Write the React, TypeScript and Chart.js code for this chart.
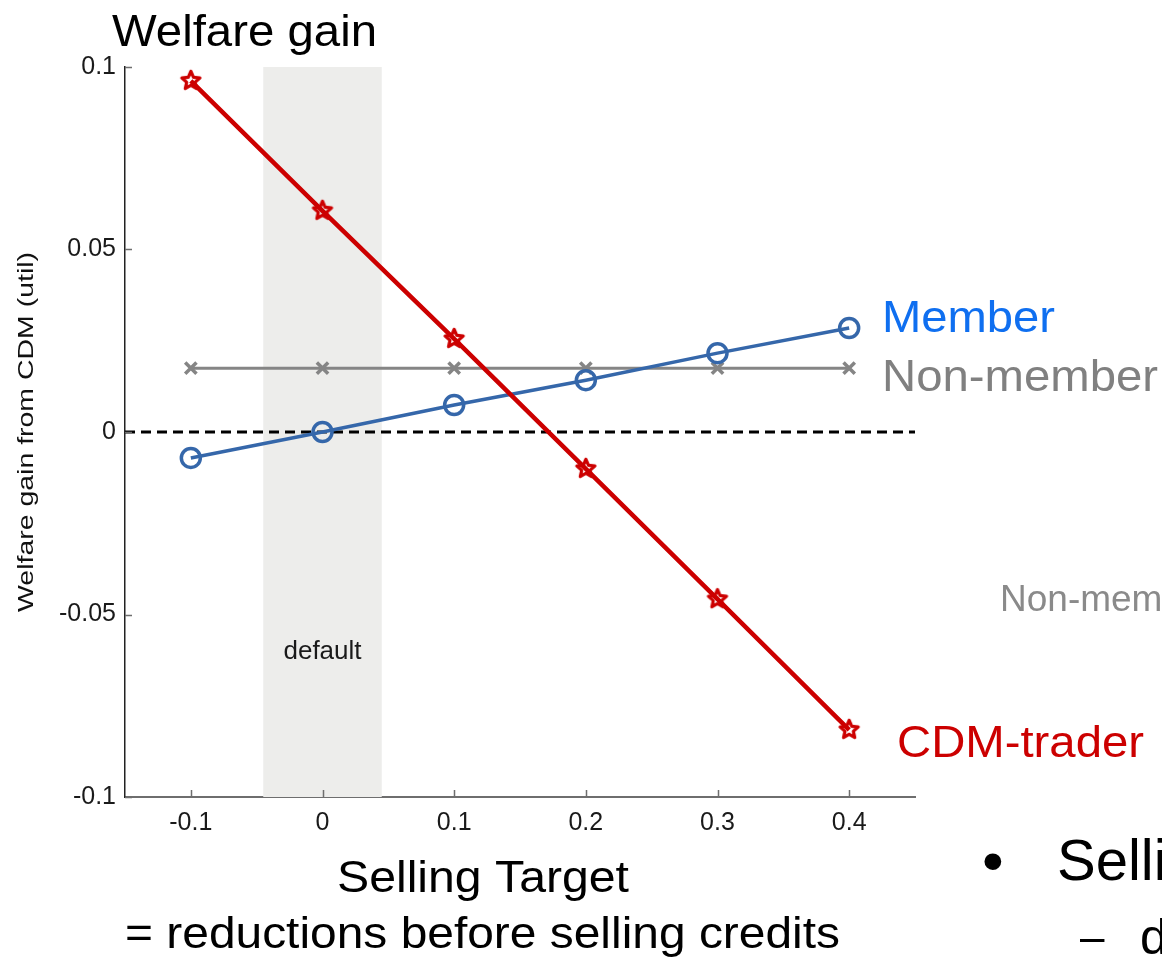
import React, { useEffect, useRef } from "react";
import { Chart, registerables } from "chart.js";

Chart.register(...registerables);

const sellingTargets = [-0.1, 0, 0.1, 0.2, 0.3, 0.4];
const cdmTrader = [0.0962, 0.0606, 0.0255, -0.0101, -0.0458, -0.0816];
const member = [-0.0071, 0, 0.0074, 0.0142, 0.0216, 0.0285];
const nonMember = [0.0175, 0.0175, 0.0175, 0.0175, 0.0175, 0.0175];
const xTickValues = [-0.1, 0, 0.1, 0.2, 0.3, 0.4];
const yTickValues = [-0.1, -0.05, 0, 0.05, 0.1];
const defaultBand = [-0.045, 0.045];

const FONT = "'Liberation Sans', Arial, Helvetica, sans-serif";

function makeStar(color: string) {
  const c = document.createElement("canvas");
  c.width = 26;
  c.height = 26;
  const ctx = c.getContext("2d")!;
  ctx.strokeStyle = color;
  ctx.lineWidth = 3.2;
  ctx.lineJoin = "round";
  ctx.beginPath();
  const R = 9.5, r = 4.4;
  for (let i = 0; i < 10; i++) {
    const rad = i % 2 === 0 ? R : r;
    const a = -Math.PI / 2 + (i * Math.PI) / 5;
    const x = 13 + rad * Math.cos(a);
    const y = 13 + rad * Math.sin(a);
    if (i === 0) ctx.moveTo(x, y);
    else ctx.lineTo(x, y);
  }
  ctx.closePath();
  ctx.stroke();
  return c;
}

function txt(
  ctx: CanvasRenderingContext2D,
  s: string,
  x: number,
  y: number,
  size: number,
  color: string,
  width?: number
) {
  ctx.save();
  ctx.font = `${size}px ${FONT}`;
  ctx.fillStyle = color;
  ctx.textAlign = "left";
  ctx.textBaseline = "alphabetic";
  ctx.translate(x, y);
  if (width) {
    const w = ctx.measureText(s).width;
    ctx.scale(width / w, 1);
  }
  ctx.fillText(s, 0, 0);
  ctx.restore();
}

const fmt = (v: number) => String(Math.round(v * 1000) / 1000);

export default function App() {
  const ref = useRef<HTMLCanvasElement>(null);

  useEffect(() => {
    if (!ref.current) return;
    const star = makeStar("#cc0000");

    const decor = {
      id: "decor",
      beforeDatasetsDraw(chart: any) {
        const { ctx, chartArea, scales } = chart;
        const xs = scales.x, ys = scales.y;
        ctx.save();
        const x0 = xs.getPixelForValue(defaultBand[0]);
        const x1 = xs.getPixelForValue(defaultBand[1]);
        ctx.fillStyle = "#ededeb";
        ctx.fillRect(x0, chartArea.top, x1 - x0, chartArea.bottom - chartArea.top);
        ctx.font = `26px ${FONT}`;
        ctx.fillStyle = "#1a1a1a";
        ctx.textAlign = "center";
        ctx.textBaseline = "middle";
        ctx.fillText("default", (x0 + x1) / 2, ys.getPixelForValue(-0.0602));
        const y0 = ys.getPixelForValue(0);
        ctx.strokeStyle = "#000";
        ctx.lineWidth = 3;
        ctx.setLineDash([10, 6]);
        ctx.beginPath();
        ctx.moveTo(chartArea.left, y0);
        ctx.lineTo(chartArea.right, y0);
        ctx.stroke();
        ctx.restore();
      },
      afterDraw(chart: any) {
        const { ctx, chartArea, scales } = chart;
        const xs = scales.x, ys = scales.y;
        ctx.save();
        ctx.strokeStyle = "#6e6e6e";
        ctx.lineWidth = 1.5;
        ctx.beginPath();
        for (const v of xTickValues) {
          const px = Math.round(xs.getPixelForValue(v)) + 0.5;
          ctx.moveTo(px, chartArea.bottom);
          ctx.lineTo(px, chartArea.bottom - 7);
        }
        for (const v of yTickValues) {
          const py = Math.round(ys.getPixelForValue(v)) + 0.5;
          ctx.moveTo(chartArea.left, py);
          ctx.lineTo(chartArea.left + 7, py);
        }
        ctx.stroke();
        ctx.restore();

        ctx.save();
        ctx.translate(27, (chartArea.top + chartArea.bottom) / 2);
        ctx.rotate(-Math.PI / 2);
        ctx.font = `22px ${FONT}`;
        const t = "Welfare gain from CDM (util)";
        const w = ctx.measureText(t).width;
        ctx.scale(360 / w, 1);
        ctx.fillStyle = "#111";
        ctx.textAlign = "center";
        ctx.textBaseline = "middle";
        ctx.fillText(t, 0, 0);
        ctx.restore();

        txt(ctx, "Welfare gain", 112, 46, 44, "#000", 265);
        txt(ctx, "Member", 882, 332, 44, "#0f6ff0", 173);
        txt(ctx, "Non-member", 882, 391, 44, "#808080", 276);
        txt(ctx, "CDM-trader", 897, 757, 44, "#cc0000", 247);
        txt(ctx, "Selling Target", 337, 892, 44, "#000", 292);
        txt(ctx, "= reductions before selling credits", 125, 948, 44, "#000", 715);
        txt(ctx, "Non-member", 1000, 611, 37, "#8a8a8a");
        txt(ctx, "•", 982, 882, 62, "#000");
        txt(ctx, "Selling", 1057, 880, 58, "#000");
        txt(ctx, "–", 1080, 952, 44, "#000");
        txt(ctx, "d", 1140, 954, 50, "#000");
      },
    };

    const chart = new Chart(ref.current, {
      type: "line",
      data: {
        datasets: [
          {
            label: "CDM-trader",
            data: sellingTargets.map((x, i) => ({ x, y: cdmTrader[i] })),
            borderColor: "#cc0000",
            borderWidth: 4.5,
            pointStyle: star as any,
            pointRadius: 10,
            pointBackgroundColor: "rgba(0,0,0,0)",
            pointBorderColor: "#cc0000",
            tension: 0,
          },
          {
            label: "Member",
            data: sellingTargets.map((x, i) => ({ x, y: member[i] })),
            borderColor: "#3567aa",
            borderWidth: 3.5,
            pointStyle: "circle",
            pointRadius: 9.5,
            pointBorderWidth: 3.5,
            pointBackgroundColor: "rgba(0,0,0,0)",
            pointBorderColor: "#3567aa",
            tension: 0,
          },
          {
            label: "Non-member",
            data: sellingTargets.map((x, i) => ({ x, y: nonMember[i] })),
            borderColor: "#858585",
            borderWidth: 3,
            pointStyle: "crossRot",
            pointRadius: 8,
            pointBorderWidth: 3.5,
            pointBackgroundColor: "rgba(0,0,0,0)",
            pointBorderColor: "#858585",
            tension: 0,
          },
        ],
      },
      options: {
        animation: false,
        responsive: false,
        events: [],
        layout: { padding: { left: 0, top: 67, right: 247, bottom: 0 } },
        plugins: {
          legend: { display: false },
          tooltip: { enabled: false },
          title: { display: false },
        },
        scales: {
          x: {
            type: "linear",
            min: -0.15,
            max: 0.45,
            afterBuildTicks: (s: any) => {
              s.ticks = xTickValues.map((v) => ({ value: v }));
            },
            afterFit: (s: any) => {
              s.height = 162;
            },
            grid: { display: false, drawTicks: false },
            border: { display: true, color: "#6e6e6e", width: 2 },
            ticks: {
              padding: 11,
              color: "#1a1a1a",
              font: { family: FONT, size: 25 },
              callback: (v: any) => fmt(Number(v)),
              maxRotation: 0,
              autoSkip: false,
            },
          },
          y: {
            type: "linear",
            min: -0.1,
            max: 0.1,
            afterBuildTicks: (s: any) => {
              s.ticks = yTickValues.map((v) => ({ value: v }));
            },
            afterFit: (s: any) => {
              s.width = 125;
            },
            grid: { display: false, drawTicks: false },
            border: { display: true, color: "#222", width: 1.5 },
            ticks: {
              padding: 9,
              color: "#1a1a1a",
              font: { family: FONT, size: 25 },
              callback: (v: any) => fmt(Number(v)),
              autoSkip: false,
            },
          },
        },
      },
      plugins: [decor],
    });
    return () => chart.destroy();
  }, []);

  return (
    <div style={{ position: "fixed", left: 0, top: 0, width: 1162, height: 959, background: "#fff" }}>
      <canvas ref={ref} width={1162} height={959} style={{ display: "block" }} />
    </div>
  );
}
